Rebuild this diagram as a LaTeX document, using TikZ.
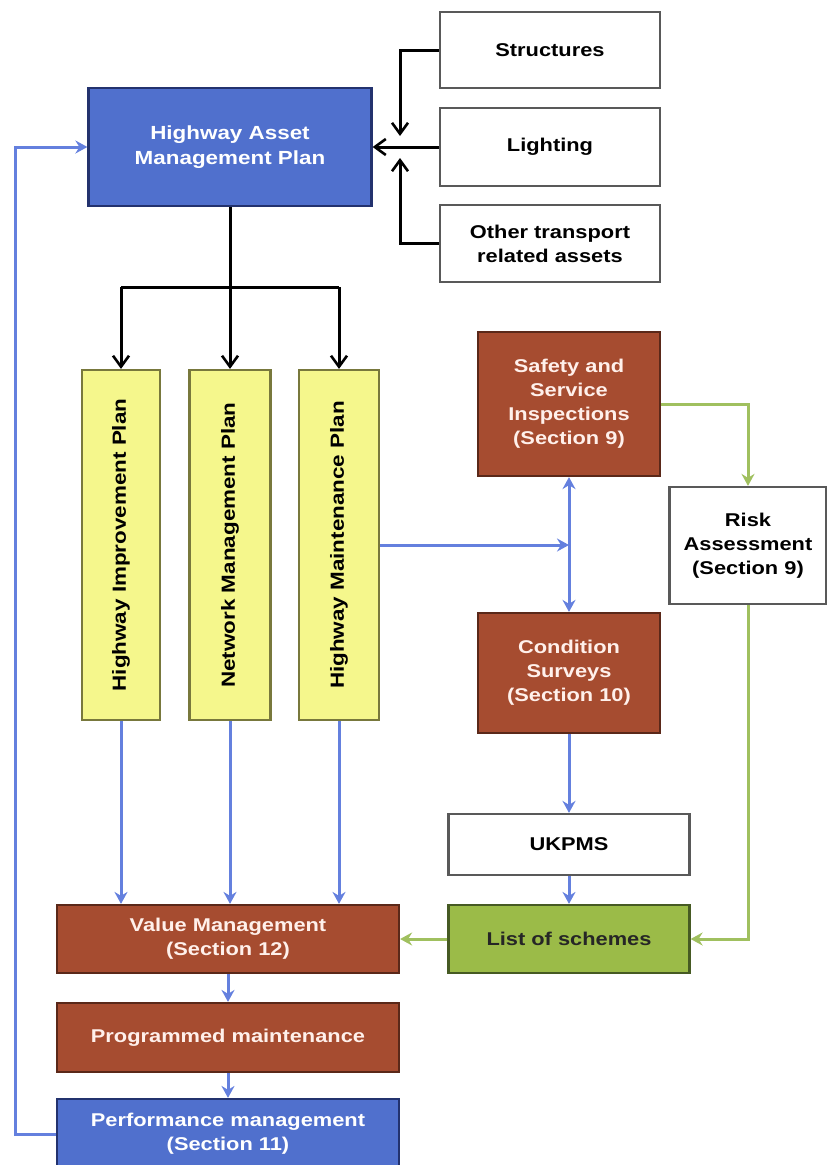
\documentclass[tikz,border=0pt]{standalone}
\usepackage{fontspec}
\setmainfont[FakeStretch=1.18]{Liberation Sans}
\usetikzlibrary{arrows.meta}
\definecolor{boxblue}{RGB}{80,112,205}
\definecolor{boxblueB}{RGB}{35,50,110}
\definecolor{boxbrown}{RGB}{166,76,48}
\definecolor{boxbrownB}{RGB}{90,40,25}
\definecolor{boxyellow}{RGB}{245,247,140}
\definecolor{boxyellowB}{RGB}{120,120,60}
\definecolor{boxgreen}{RGB}{155,187,72}
\definecolor{boxgreenB}{RGB}{70,90,35}
\definecolor{lineblue}{RGB}{100,128,222}
\definecolor{linegreen}{RGB}{160,192,95}
\definecolor{textbrown}{RGB}{255,240,235}
\tikzset{
  base/.style={draw, line width=2.2pt, inner sep=0pt, align=center,
    font=\fontsize{18.5}{24}\selectfont\bfseries},
  whitebox/.style={base, fill=white, draw=black!65},
  bluebox/.style={base, fill=boxblue, draw=boxblueB, text=white},
  brownbox/.style={base, fill=boxbrown, draw=boxbrownB, text=textbrown},
  yellowbox/.style={base, fill=boxyellow, draw=boxyellowB},
  greenbox/.style={base, fill=boxgreen, draw=boxgreenB, text=black!85},
  vtext/.style={rotate=90, font=\fontsize{19}{24}\selectfont\bfseries},
  blk/.style={line width=3pt, black, -{Straight Barb[length=11pt,width=16pt,line width=2.6pt]}},
  blkline/.style={line width=3pt, black},
  ctip/.tip={Stealth[length=12pt,width=13pt,inset=4pt]},
  blu/.style={line width=3pt, lineblue, -ctip},
  blubi/.style={line width=3pt, lineblue, ctip-ctip},
  grn/.style={line width=3pt, linegreen, -ctip},
}
\begin{document}
\begin{tikzpicture}[x=1pt,y=-1pt]
\useasboundingbox (0,0) rectangle (827,1165);
% boxes
\node[whitebox, minimum width=220, minimum height=76] (struct) at (550,50) {Structures};
\node[whitebox, minimum width=220, minimum height=78] (light) at (550,147) {Lighting};
\node[whitebox, minimum width=220, minimum height=77] (other) at (550,243.5) {Other transport\\related assets};
\node[bluebox, minimum width=283, minimum height=118, font=\fontsize{19}{25}\selectfont\bfseries] (hamp) at (230,147) {Highway Asset\\Management Plan};
\node[yellowbox, minimum width=78, minimum height=350] (hip) at (121,545) {};
\node[vtext] (hipt) at (hip.center) {Highway Improvement Plan};
\node[yellowbox, minimum width=81, minimum height=350] (nmp) at (230,545) {};
\node[vtext] (nmpt) at (nmp.center) {Network Management Plan};
\node[yellowbox, minimum width=80, minimum height=350] (hmp) at (339,545) {};
\node[vtext] (hmpt) at (hmp.center) {Highway Maintenance Plan};
\node[brownbox, minimum width=182, minimum height=144] (safety) at (569,404) {Safety and\\Service\\Inspections\\(Section 9)};
\node[whitebox, minimum width=157, minimum height=117] (risk) at (748,545.5) {Risk\\Assessment\\(Section 9)};
\node[brownbox, minimum width=182, minimum height=120] (cond) at (569,673) {Condition\\Surveys\\(Section 10)};
\node[whitebox, minimum width=241, minimum height=61] (ukpms) at (569,844.5) {UKPMS};
\node[greenbox, minimum width=241, minimum height=68] (list) at (569,939) {List of schemes};
\node[brownbox, minimum width=342, minimum height=68] (vm) at (228,939) {Value Management\\(Section 12)};
\node[brownbox, minimum width=342, minimum height=69] (prog) at (228,1037.5) {Programmed maintenance};
\node[bluebox, minimum width=342, minimum height=70] (perf) at (228,1134) {Performance management\\(Section 11)};
% black connectors
\coordinate (s1) at (400,136);
\coordinate (o1) at (400,158);
\draw[blk] (struct.west) -| (s1);
\draw[blk] (other.west) -| (o1);
\draw[blk] (light.west) -- (hamp.east);
\coordinate (split) at (230,287);
\draw[blkline] (hamp.south -| split) -- (split);
\draw[blkline] (split -| hip.north) -- (split -| hmp.north);
\draw[blk] (split -| hip.north) -- (hip.north);
\draw[blk] (split -| nmp.north) -- (nmp.north);
\draw[blk] (split -| hmp.north) -- (hmp.north);
% blue connectors
\draw[blu] (hip.south) -- (hip.south |- vm.north);
\draw[blu] (nmp.south) -- (nmp.south |- vm.north);
\draw[blu] (hmp.south) -- (hmp.south |- vm.north);
\draw[blubi] (safety.south) -- (cond.north);
\draw[blu] (hmp.east) -- (hmp.east -| safety.south);
\draw[blu] (cond.south) -- (ukpms.north -| cond.south);
\draw[blu] (ukpms.south -| cond.south) -- (list.north -| cond.south);
\draw[blu] (vm.south) -- (prog.north);
\draw[blu] (prog.south) -- (perf.north);
\coordinate (fb) at (15,1134);
\draw[blu] (perf.west) -- (fb) |- (hamp.west);
% green connectors
\draw[grn] (safety.east) -| (risk.north);
\draw[grn] (risk.south) |- (list.east);
\draw[grn] (list.west) -- (vm.east);
\end{tikzpicture}
\end{document}
